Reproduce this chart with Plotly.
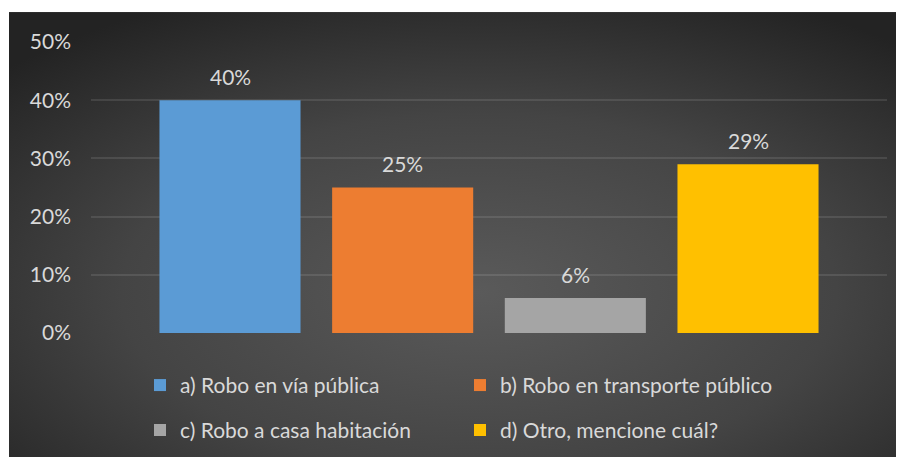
import base64
import plotly.graph_objects as go

# ---- data ----
categories = ["a) Robo en vía pública", "b) Robo en transporte público",
              "c) Robo a casa habitación", "d) Otro, mencione cuál?"]
values = [0.40, 0.25, 0.06, 0.29]
labels = ["40%", "25%", "6%", "29%"]
colors = ["#5b9bd5", "#ed7d31", "#a5a5a5", "#ffc000"]
ytick_vals = [0, 0.1, 0.2, 0.3, 0.4, 0.5]
ytick_text = ["0%", "10%", "20%", "30%", "40%", "50%"]

# page is offset by the 8px body margin
W, H = 904, 457
ML, MR, MT, MB = 83, 25, 34, 131.5
FONT = "Lato"
TXT = "#d9d9d9"

fig = go.Figure()
legends = ["legend", "legend", "legend2", "legend2"]
for i, (c, v, col) in enumerate(zip(categories, values, colors)):
    fig.add_trace(go.Bar(
        x=[c], y=[v], name=c, marker=dict(color=col, line=dict(width=0)),
        legend=legends[i], hoverinfo="skip",
    ))
    fig.add_annotation(x=c, y=v, text=labels[i], showarrow=False,
                       yanchor="middle", yshift=24,
                       font=dict(family=FONT, size=21, color=TXT))

# gradient background (SVG)
svg = (
    '<svg xmlns="http://www.w3.org/2000/svg" width="903" height="453" preserveAspectRatio="none">'
    '<defs><radialGradient id="g" cx="0.52" cy="0.62" r="0.72">'
    '<stop offset="0" stop-color="#5a5a5a"/>'
    '<stop offset="0.55" stop-color="#444444"/>'
    '<stop offset="1" stop-color="#232323"/>'
    '</radialGradient></defs>'
    '<rect width="903" height="453" fill="url(#g)"/></svg>'
)
src = "data:image/svg+xml;base64," + base64.b64encode(svg.encode()).decode()
pw = W - ML - MR
ph = H - MT - MB
left_px, top_px = 1, 4
fig.add_layout_image(dict(
    source=src, xref="paper", yref="paper",
    x=(left_px - ML) / pw, y=1 + (MT - top_px) / ph,
    sizex=(W - left_px) / pw, sizey=(H - top_px) / ph,
    sizing="stretch", xanchor="left", yanchor="top", layer="below",
))

grid = "rgba(255,255,255,0.10)"
leg_x = (132 - ML) / pw
fig.update_layout(
    width=W, height=H,
    margin=dict(l=ML, r=MR, t=MT, b=MB, pad=0),
    paper_bgcolor="white", plot_bgcolor="rgba(0,0,0,0)",
    barmode="overlay", bargap=0.183,
    font=dict(family=FONT, size=21, color=TXT),
    xaxis=dict(range=[-0.805, 3.805], showticklabels=False, showgrid=False,
               zeroline=False, showline=False, ticks=""),
    yaxis=dict(range=[0, 0.5], tickvals=ytick_vals, ticktext=ytick_text,
               showgrid=True, gridcolor=grid, gridwidth=2, zeroline=False,
               showline=False, ticks="", ticklabelstandoff=19,
               tickfont=dict(family=FONT, size=21, color=TXT)),
    legend=dict(orientation="h", x=leg_x, xanchor="left",
                y=-(378 - (H - MB)) / ph, yanchor="middle",
                entrywidth=275, bgcolor="rgba(0,0,0,0)",
                font=dict(family=FONT, size=21, color=TXT), itemclick=False),
    legend2=dict(orientation="h", x=leg_x, xanchor="left",
                 y=-(423 - (H - MB)) / ph, yanchor="middle",
                 entrywidth=275, bgcolor="rgba(0,0,0,0)",
                 font=dict(family=FONT, size=21, color=TXT), itemclick=False),
    showlegend=True,
)

fig.write_html("out.html")
